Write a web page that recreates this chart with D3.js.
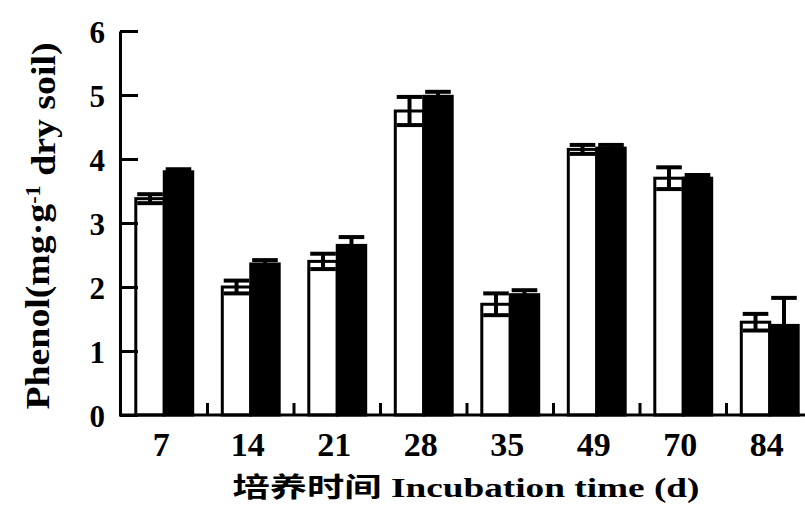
<!DOCTYPE html>
<html>
<head>
<meta charset="utf-8">
<script src="https://cdn.jsdelivr.net/npm/d3@7"></script>
<style>
  body { margin: 0; background: #fff; }
  svg { display: block; }
  text { font-family: "Liberation Serif", "Noto Sans CJK SC", serif; font-weight: bold; fill: #000; }
</style>
</head>
<body>
<div id="chart"></div>
<script>

// incubation time (d)
var days = ["7", "14", "21", "28", "35", "49", "70", "84"]

var series = ["open", "filled"]

// phenol, mg g-1 dry soil
var openValues = [3.38, 2.0, 2.4, 4.75, 1.73, 4.15, 3.7, 1.45]
var openErrors = [0.07, 0.1, 0.12, 0.22, 0.17, 0.07, 0.17, 0.13]

var filledValues = [3.8, 2.36, 2.65, 4.98, 1.88, 4.17, 3.7, 1.4]
var filledErrors = [0.04, 0.06, 0.13, 0.07, 0.07, 0.05, 0.05, 0.43]

var yTicks = [0, 1, 2, 3, 4, 5, 6]

var width = 805
var height = 509

var rows = []
days.forEach(function(d, i) {
	rows.push({ day: d, key: "open", value: openValues[i], err: openErrors[i] })
	rows.push({ day: d, key: "filled", value: filledValues[i], err: filledErrors[i] })
})

var svg = d3.select("#chart").append("svg")
	.attr("width", width)
	.attr("height", height)

var x0 = d3.scaleBand()
	.domain(days)
	.range([121, 813])
	.padding(0)

var x1 = d3.scaleBand()
	.domain(series)
	.range([0, x0.bandwidth()])
	.paddingInner(0)
	.paddingOuter(0.52)

var y = d3.scaleLinear()
	.domain([0, 6])
	.range([415, 31])

// bars
svg.append("g").selectAll("rect")
	.data(rows)
	.enter()
	.append("rect")
	.attr("x", d => x0(d.day) + x1(d.key))
	.attr("y", d => y(d.value))
	.attr("width", x1.bandwidth())
	.attr("height", d => y(0) - y(d.value))
	.attr("fill", d => d.key === "open" ? "#fff" : "#000")
	.attr("stroke", "#000")
	.attr("stroke-width", 3)

// error bars
var err = svg.append("g")
	.attr("stroke", "#000")
	.attr("stroke-width", 4)

var capW = x1.bandwidth() * 0.9

rows.forEach(function(d) {
	var cx = x0(d.day) + x1(d.key) + x1.bandwidth() / 2
	err.append("line")
		.attr("x1", cx).attr("x2", cx)
		.attr("y1", y(d.value - d.err)).attr("y2", y(d.value + d.err))
	err.append("line")
		.attr("x1", cx - capW / 2).attr("x2", cx + capW / 2)
		.attr("y1", y(d.value + d.err)).attr("y2", y(d.value + d.err))
	err.append("line")
		.attr("x1", cx - capW / 2).attr("x2", cx + capW / 2)
		.attr("y1", y(d.value - d.err)).attr("y2", y(d.value - d.err))
})

// y axis, ticks pointing inward
var yAxis = svg.append("g")
	.attr("transform", "translate(120,0)")
	.call(d3.axisLeft(y)
		.tickValues(yTicks)
		.tickFormat(d3.format("d"))
		.tickSizeInner(-18)
		.tickSizeOuter(0)
		.tickPadding(15))

yAxis.select(".domain").attr("stroke-width", 3)
yAxis.selectAll(".tick line").attr("stroke-width", 3)
yAxis.selectAll(".tick text")
	.style("font-size", "31px")
	.attr("dy", "0.36em")

// x axis baseline and group separators
svg.append("line")
	.attr("x1", 119).attr("x2", width)
	.attr("y1", y(0)).attr("y2", y(0))
	.attr("stroke", "#000")
	.attr("stroke-width", 3)

svg.append("g").selectAll("line")
	.data(days.slice(1))
	.enter()
	.append("line")
	.attr("x1", d => x0(d)).attr("x2", d => x0(d))
	.attr("y1", y(0)).attr("y2", y(0) - 12)
	.attr("stroke", "#000")
	.attr("stroke-width", 3)

svg.append("g").selectAll("text")
	.data(days)
	.enter()
	.append("text")
	.attr("x", d => x0(d) + x0.bandwidth() / 2 - 3)
	.attr("y", 456)
	.attr("text-anchor", "middle")
	.style("font-size", "34px")
	.text(d => d)

// axis titles
svg.append("text")
	.attr("x", 466)
	.attr("y", 497)
	.attr("text-anchor", "middle")
	.attr("textLength", 467)
	.attr("lengthAdjust", "spacingAndGlyphs")
	.style("font-size", "27px")
	.text("培养时间 Incubation time (d)")

var yTitle = svg.append("text")
	.attr("transform", "translate(49,226) rotate(-90)")
	.attr("text-anchor", "middle")
	.attr("textLength", 367)
	.attr("lengthAdjust", "spacingAndGlyphs")
	.style("font-size", "34px")

yTitle.append("tspan").text("Phenol(mg·g")
yTitle.append("tspan").attr("dy", "-0.45em").style("font-size", "20px").text("-1")
yTitle.append("tspan").attr("dy", "0.45em").text(" dry soil)")

</script>
</body>
</html>
